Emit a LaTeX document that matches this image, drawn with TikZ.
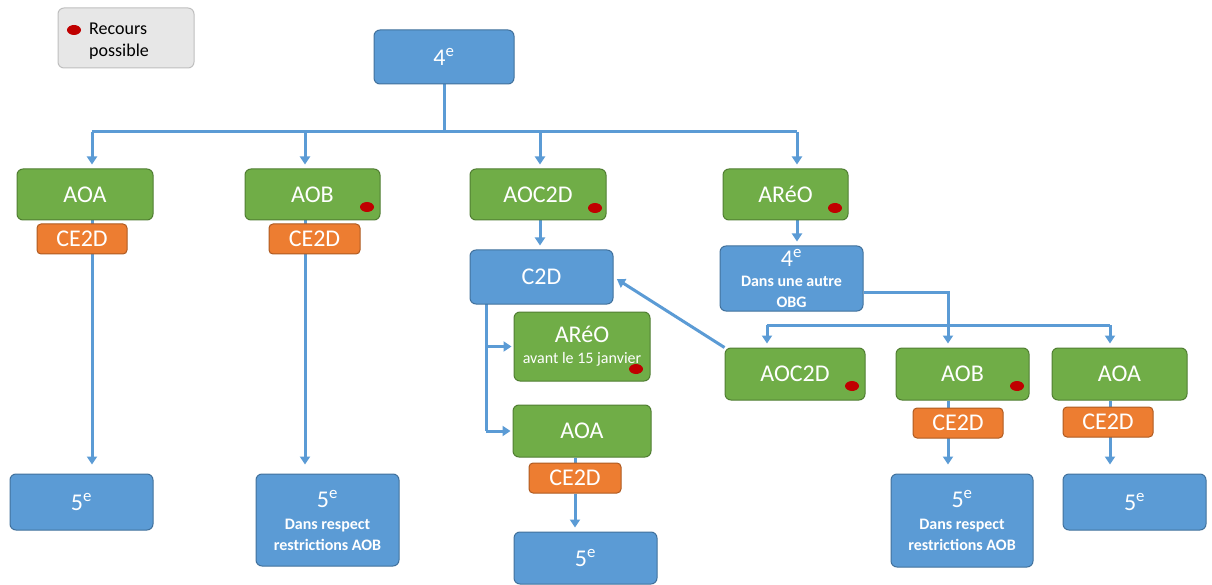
\documentclass[tikz,border=0pt]{standalone}
\usepackage{fontspec}
\setmainfont{Carlito}
\usetikzlibrary{arrows.meta,backgrounds,shapes.geometric}
\definecolor{bfill}{HTML}{5B9BD5}
\definecolor{bdraw}{HTML}{41719C}
\definecolor{gfill}{HTML}{70AD47}
\definecolor{gdraw}{HTML}{507E32}
\definecolor{ofill}{HTML}{ED7D31}
\definecolor{odraw}{HTML}{AE5A21}
\definecolor{rdot}{HTML}{C00000}
\definecolor{lfill}{HTML}{E7E7E7}
\definecolor{ldraw}{HTML}{BFBFBF}
\newcommand{\bigtxt}{\fontsize{24}{26}\selectfont}
\newcommand{\smltxt}{\fontsize{16}{19}\selectfont}
\tikzset{
  box/.style={rounded corners=6pt, line width=1pt, text=white, inner sep=0pt, align=center, font=\bigtxt},
  sz/.style 2 args={minimum width=#1pt, minimum height=#2pt},
  bluebox/.style={box, fill=bfill, draw=bdraw},
  greenbox/.style={box, fill=gfill, draw=gdraw},
  orangebox/.style={box, fill=ofill, draw=odraw, rounded corners=4pt},
  reddot/.style={ellipse, fill=rdot, minimum width=14pt, minimum height=10pt, inner sep=0pt},
  conn/.style={draw=bfill, line width=3pt},
  arr/.style={conn, -{Triangle[width=10pt,length=8pt]}, shorten >=4pt},
  longarr/.style={arr, shorten >=9pt}
}
\begin{document}
\begin{tikzpicture}[x=1pt,y=-1pt]
\useasboundingbox (0,0) rectangle (1212,585);
% legend
\node[box, fill=lfill, draw=ldraw, sz={136}{60}] (legend) at (126,38) {};
\node[reddot] (ldot) at (74,30) {};
\node[anchor=west, align=left, font=\fontsize{18}{22}\selectfont, inner sep=0pt] (ltext) at (89,41) {Recours\\possible};
% top
\node[bluebox, sz={140}{54}] (top4) at (444,57) {4\textsuperscript{e}};
% row 1
\node[greenbox, sz={136}{51}] (aoa1) at (85,194.5) {AOA};
\node[greenbox, sz={135}{51}] (aob1) at (312.5,194.5) {AOB};
\node[greenbox, sz={136}{51}] (aoc1) at (538,194.5) {AOC2D};
\node[greenbox, sz={125}{51}] (areo1) at (785.5,194.5) {ARéO};
\node[orangebox, sz={90}{30}] (ce1) at (82,239) {CE2D};
\node[orangebox, sz={91}{30}] (ce2) at (314.5,239) {CE2D};
% left 5e
\node[bluebox, sz={143}{56}] (v1) at (81.5,502) {5\textsuperscript{e}};
\node[bluebox, sz={143}{92}] (v2) at (327.5,520) {5\textsuperscript{e}\\[-4pt]{\smltxt\bfseries Dans respect}\\[-5pt]{\smltxt\bfseries restrictions AOB}};
% middle
\node[bluebox, sz={143}{54}] (c2d) at (541.5,277) {C2D};
\node[greenbox, sz={136}{69}] (areo2) at (582,346.5) {ARéO\\[-5pt]{\smltxt avant le 15 janvier}};
\node[greenbox, sz={138}{52}] (aoa2) at (582,431) {AOA};
\node[orangebox, sz={92}{30}] (ce3) at (575,478) {CE2D};
\node[bluebox, sz={143}{52}] (v3) at (585.5,558) {5\textsuperscript{e}};
% right
\node[bluebox, sz={143}{65}] (obg) at (791.5,278.5) {4\textsuperscript{e}\\[-6pt]{\smltxt\bfseries Dans une autre}\\[-5pt]{\smltxt\bfseries OBG}};
\node[greenbox, sz={140}{52}] (aoc3) at (795,374) {AOC2D};
\node[greenbox, sz={133}{52}] (aob3) at (962.5,374) {AOB};
\node[greenbox, sz={135}{52}] (aoa3) at (1119.5,374) {AOA};
\node[orangebox, sz={90}{30}] (ce4) at (958,423) {CE2D};
\node[orangebox, sz={90}{30}] (ce5) at (1108,422) {CE2D};
\node[bluebox, sz={142}{93}] (v4) at (962,520.5) {5\textsuperscript{e}\\[-4pt]{\smltxt\bfseries Dans respect}\\[-5pt]{\smltxt\bfseries restrictions AOB}};
\node[bluebox, sz={143}{56}] (v5) at (1134.5,502) {5\textsuperscript{e}};
% red dots
\node[reddot] (d1) at (367,207) {};
\node[reddot] (d2) at (595,208) {};
\node[reddot] (d3) at (835,208) {};
\node[reddot] (d4) at (636,369) {};
\node[reddot] (d5) at (852,386) {};
\node[reddot] (d6) at (1017,386) {};
% connectors
\coordinate (t1) at (92,132);
\coordinate (t2) at (305,132);
\coordinate (t3) at (540,132);
\coordinate (t4) at (797,132);
\coordinate (cl) at (486,304);
\coordinate (r1) at (948,292);
\coordinate (h1) at (767,325);
\coordinate (h2) at (1110,325);
\begin{scope}[on background layer]
\draw[conn] (top4.south) -- (top4.south |- t1);
\draw[conn] (t1) -- (t4);
\draw[arr] (t1) -- (t1 |- aoa1.north);
\draw[arr] (t2) -- (t2 |- aob1.north);
\draw[arr] (t3) -- (t3 |- aoc1.north);
\draw[arr] (t4) -- (t4 |- areo1.north);
\draw[longarr] (t1 |- aoa1.south) -- (t1 |- v1.north);
\draw[longarr] (t2 |- aob1.south) -- (t2 |- v2.north);
\draw[arr] (t3 |- aoc1.south) -- (t3 |- c2d.north);
\draw[conn] (cl) -- (cl |- aoa2.west);
\draw[arr, shorten >=2pt] (cl |- areo2.west) -- (areo2.west);
\draw[arr, shorten >=2pt] (cl |- aoa2.west) -- (aoa2.west);
\draw[conn] (ce3.north |- aoa2.south) -- (ce3.north);
\draw[arr] (ce3.south) -- (ce3.south |- v3.north);
\draw[arr] (t4 |- areo1.south) -- (t4 |- obg.north);
\draw[arr] (obg.east |- r1) -- (r1) -- (r1 |- aob3.north);
\draw[conn] (h1) -- (h2);
\draw[arr] (h1) -- (h1 |- aoc3.north);
\draw[arr] (h2) -- (h2 |- aoa3.north);
\draw[longarr] (r1 |- aob3.south) -- (r1 |- v4.north);
\draw[longarr] (h2 |- aoa3.south) -- (h2 |- v5.north);
\draw[arr] (aoc3.north west) -- (c2d.east);
\end{scope}
\end{tikzpicture}
\end{document}
